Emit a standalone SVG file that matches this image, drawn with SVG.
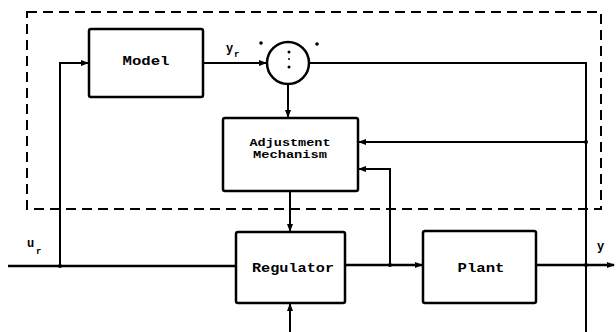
<svg xmlns="http://www.w3.org/2000/svg" width="616" height="332" viewBox="0 0 616 332">
<defs>
<marker id="arr" markerWidth="8" markerHeight="6" refX="7" refY="3" orient="auto" markerUnits="userSpaceOnUse">
<path d="M0,0 L8,3 L0,6 Z" fill="#000"/>
</marker>
<style>
.box{fill:#fff;stroke:#000;stroke-width:2.5}
.ln{fill:none;stroke:#000;stroke-width:2}
.thick{fill:none;stroke:#000;stroke-width:2.5}
.dash{fill:none;stroke:#000;stroke-width:2;stroke-dasharray:10,6}
.t{font-family:"Liberation Mono","Courier New",monospace;font-weight:bold;font-size:12px;fill:#000}
.ts{font-family:"Liberation Mono","Courier New",monospace;font-weight:bold;font-size:10px;fill:#000}
.lbl{font-family:"Liberation Mono","Courier New",monospace;font-weight:bold;font-size:12px;fill:#000}
.sub{font-family:"Liberation Mono","Courier New",monospace;font-weight:bold;font-size:9px;fill:#000}
</style>
</defs>
<rect width="616" height="332" fill="#fff"/>
<rect id="boundary" x="27" y="12" width="574" height="197" class="dash"/>
<g id="connectors">
<path class="ln" d="M60,266 L60,63 L88,63" marker-end="url(#arr)"/>
<path class="ln" d="M203,63 L266,63" marker-end="url(#arr)"/>
<path class="ln" d="M288,84 L288,117" marker-end="url(#arr)"/>
<path class="ln" d="M309,63 L586,63 L586,332"/>
<path class="ln" d="M586,142 L359,142" marker-end="url(#arr)"/>
<path class="ln" d="M390,265 L390,169 L359,169" marker-end="url(#arr)"/>
<path class="ln" d="M290,191 L290,231" marker-end="url(#arr)"/>
<path class="thick" d="M8,266 L235,266"/>
<path class="ln" d="M290,332 L290,304" marker-end="url(#arr)"/>
<path class="thick" d="M345,265 L422,265" marker-end="url(#arr)"/>
<path class="thick" d="M536,265 L614,265" marker-end="url(#arr)"/>
<circle cx="60" cy="266" r="2" fill="#000"/>
<circle cx="390" cy="265" r="2" fill="#000"/>
<circle cx="586" cy="265" r="2" fill="#000"/>
<circle cx="586" cy="142" r="2" fill="#000"/>
</g>
<g id="model">
<rect class="box" x="89" y="29" width="114" height="68" rx="2"/>
<text class="t" x="146" y="65" text-anchor="middle" textLength="47" lengthAdjust="spacingAndGlyphs">Model</text>
</g>
<g id="summer">
<circle cx="288" cy="63" r="21" fill="#fff" stroke="#000" stroke-width="2.5"/>
<circle cx="289" cy="52" r="1.5" fill="#000"/>
<circle cx="289" cy="59" r="1" fill="#000"/>
<circle cx="289" cy="67" r="1.5" fill="#000"/>
<circle cx="261" cy="43" r="1.8" fill="#000"/>
<circle cx="317" cy="44" r="1.8" fill="#000"/>
</g>
<g id="adjustment">
<rect class="box" x="223" y="118" width="135" height="73" rx="2"/>
<text class="ts" x="290" y="146" text-anchor="middle" textLength="81" lengthAdjust="spacingAndGlyphs">Adjustment</text>
<text class="ts" x="290" y="158" text-anchor="middle" textLength="74" lengthAdjust="spacingAndGlyphs">Mechanism</text>
</g>
<g id="regulator">
<rect class="box" x="236" y="232" width="109" height="71" rx="2"/>
<text class="t" x="293" y="272" text-anchor="middle" textLength="82" lengthAdjust="spacingAndGlyphs">Regulator</text>
</g>
<g id="plant">
<rect class="box" x="423" y="231" width="113" height="72" rx="2"/>
<text class="t" x="481" y="272" text-anchor="middle" textLength="47" lengthAdjust="spacingAndGlyphs">Plant</text>
</g>
<g id="labels">
<text class="lbl" x="226" y="52">y</text><text class="sub" x="234" y="57">r</text>
<text class="lbl" x="27" y="247">u</text><text class="sub" x="36" y="254">r</text>
<text class="lbl" x="597" y="250">y</text>
</g>
</svg>
